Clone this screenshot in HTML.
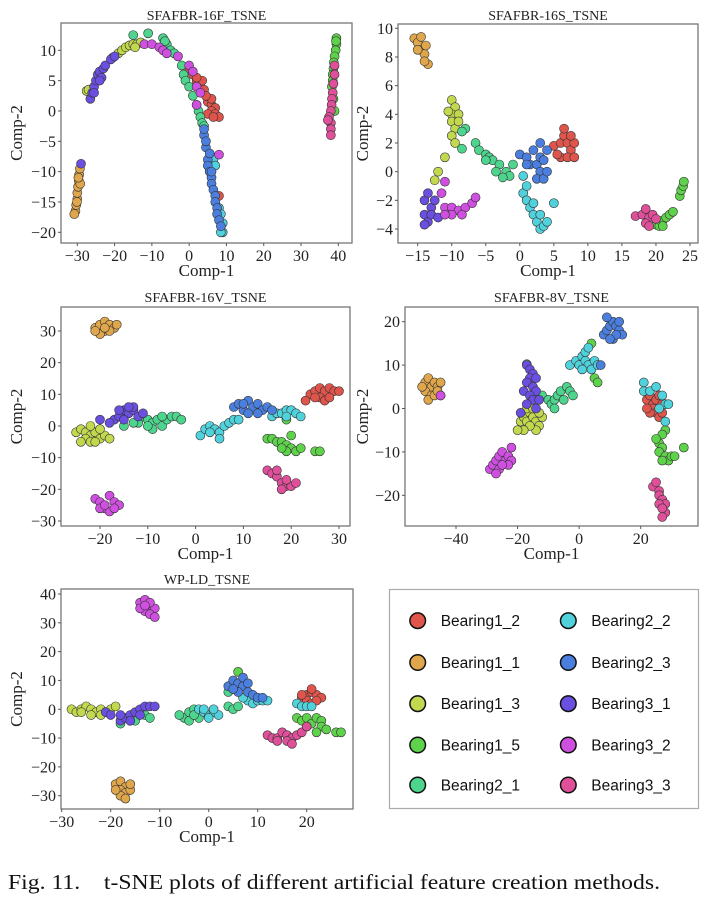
<!DOCTYPE html>
<html><head><meta charset="utf-8"><style>
body{margin:0;background:#fff;width:701px;height:900px;overflow:hidden;font-family:"Liberation Serif",serif}
svg{position:absolute;left:0;top:0}
</style></head><body>
<svg id="fig" width="701" height="900" viewBox="0 0 701 900"></svg>
<script>
// ---------- series names / colors ----------
const seriesNames=["Bearing1_2","Bearing1_1","Bearing1_3","Bearing1_5","Bearing2_1","Bearing2_2","Bearing2_3","Bearing3_1","Bearing3_2","Bearing3_3"];
const seriesColors=["#e0554b","#dfa64c","#c2d94f","#5fd24b","#4dd48d","#50d2dc","#4b7fdf","#6b4fe0","#cf50e0","#e04f99"];
// ---------- panel 1: SFAFBR-16F ----------
const f16_ticksX=[-30,-20,-10,0,10,20,30,40];
const f16_ticksY=[-20,-15,-10,-5,0,5,10];
const f16_B12=[[0,7],[1,6],[2,5],[3,4],[4,3.5],[3.5,5],[5,1.5],[6,1],[7,0.5],[6,0],[5,-0.5],[7,-0.5],[6,2],[8,-1],[2,5.5],[8,-14],[4.5,2.5],[6.5,-1]];
const f16_B11=[[-30.5,-16.5],[-30.3,-15.5],[-30,-14.5],[-30,-13.5],[-29.8,-12.5],[-29.6,-11.5],[-29.5,-10.5],[-29.3,-9.5],[-30.8,-17],[-29.2,-12],[-30.1,-15],[-29.7,-11]];
const f16_B13=[[-27.5,3.3],[-27,3.5],[-19,9.5],[-18,10],[-17,10.5],[-16,10.8],[-15,11],[-14,11],[-13,11.3],[-14.5,10.5],[-20.5,8.8]];
const f16_B15=[[39.5,12],[39.5,11],[39.3,10],[39,9],[38.8,8],[38.7,7],[38.5,6],[38.5,5],[38.3,4],[38.7,2],[39,0],[39.4,11.5]];
const f16_B21=[[-15,12.5],[-11,12.8],[-7,12],[-6,11],[-5,10],[-3,9],[-2,7.5],[-1.5,6],[-1,5],[0,4],[1,2.5],[2,1],[2.5,0],[3,-1],[3.5,-2],[4,-2.5],[-6.5,11.5],[-4,9.5]];
const f16_B22=[[6.5,-8],[8,-16],[8.5,-17],[9,-18.5],[9,-20],[8.5,-20],[7,-9]];
const f16_B23=[[4,-4],[4.5,-6],[5,-8],[5,-9],[5.5,-10],[6,-11],[6,-12],[6.5,-13],[7,-14],[7,-15],[7.5,-16],[7.5,-17],[8,-18],[8.5,-19],[4,-3],[5.5,-7],[4.5,-5],[6,-10]];
const f16_B31=[[-26.5,2],[-26,3],[-25.5,4],[-25,5],[-24.5,6],[-24,6.5],[-23,7],[-22.5,7.5],[-21,8.5],[-20,9],[-23.5,5.5],[-25.5,3],[-29,-8.7],[-24,5]];
const f16_B32=[[-12,11],[-10,11],[-8,10.5],[-7,10],[-6,9.5],[-3,9],[0,7.5],[1,6.5],[2,4],[3,3],[8,-7.2],[2,1]];
const f16_B33=[[39,7.5],[39,6],[38.7,4.5],[38.5,3],[38.3,2],[38.2,1],[38,0],[37.5,-1],[38,-2],[38,-3],[38,-4],[37.2,-1.5]];
// ---------- panel 2: SFAFBR-16S ----------
const s16_ticksX=[-15,-10,-5,0,5,10,15,20,25];
const s16_ticksY=[-4,-2,0,2,4,6,8,10];
const s16_B12=[[5,1.8],[6,2],[6.5,2.5],[7,2],[7.5,1.5],[8,2],[6,1],[7,1],[6.5,3],[5.5,1.2],[7.5,2.5],[8,1]];
const s16_B11=[[-15.5,9.3],[-15,9],[-14.5,9.4],[-14.5,8.5],[-14,8.2],[-13.5,7.5],[-14,7.7],[-15,8.5],[-13.8,8.8]];
const s16_B13=[[-10,5],[-9.5,4.5],[-10,4],[-9,4],[-10,3.5],[-9.5,3],[-10,2.5],[-9.5,2],[-9,3.5],[-10.5,4.2],[-11,1],[-12,0],[-12.5,-0.6]];
const s16_B15=[[20,-3.7],[21,-3.4],[21.5,-3.2],[22,-3],[22.5,-2.8],[20.5,-3.8],[21,-3.8],[23.5,-1.7],[23.7,-1.3],[24,-1],[24.1,-0.7]];
const s16_B21=[[-8,3],[-8.5,2.8],[-6.5,2],[-6,1.5],[-5,1.2],[-4.5,1],[-4,0.8],[-3,0.5],[-2,0],[-1.5,-0.3],[-2.5,-0.4],[-3.5,0],[-5,0.8],[-8.5,1.6],[-1,0.5]];
const s16_B22=[[0.5,-1.5],[1,-2],[1.5,-2.5],[2,-3],[2.5,-3.5],[3,-4],[3.5,-3.8],[3,-3],[4,-3.5],[2,-2.2],[0.5,-0.3],[1,-1],[5,-2.2]];
const s16_B23=[[0,1.2],[1,1],[1.5,0.5],[2,1.5],[2.5,0.5],[3,1],[3,0],[3.5,0.8],[3,2],[4,1.5],[2.5,-0.5],[3.5,-0.5],[1,0.5],[4,0]];
const s16_B31=[[-14,-2],[-13.5,-1.5],[-13,-2.5],[-14,-3],[-13.5,-3.5],[-13,-3],[-12.5,-2],[-14,-3.7],[-12,-3.2]];
const s16_B32=[[-11,-0.7],[-11.5,-1.5],[-11,-2.5],[-10,-2.5],[-9,-2.7],[-8,-2.5],[-7,-2.2],[-6.5,-1.8],[-10,-3],[-8.5,-3],[-11,-3]];
const s16_B33=[[17,-3.1],[18,-3],[18.5,-2.6],[19,-3.2],[19.5,-3],[18.5,-3.6],[20,-3.3],[19,-3.8]];
// ---------- panel 3: SFAFBR-16V ----------
const v16_ticksX=[-20,-10,0,10,20,30];
const v16_ticksY=[-30,-20,-10,0,10,20,30];
const v16_B12=[[24,10],[25,11],[26,12],[27,11],[28,12],[29,11],[30,11],[26,9],[27,8],[28,9],[25,9],[23,8]];
const v16_B11=[[-21,31],[-20,32],[-19,33],[-18,32],[-17,31],[-19,30],[-20,29],[-21,30],[-18,30],[-19,31],[-16.5,32]];
const v16_B13=[[-25,-2],[-24,-1],[-23,-2],[-22,-3],[-21,-2],[-23,-4],[-24,-5],[-22,-5],[-20,-4],[-21,-5],[-19,-3],[-18,-4],[-20,-1],[-22,0]];
const v16_B15=[[15,-4],[16,-4],[17,-5],[18,-5],[19,-6],[20,-7],[21,-8],[22,-7],[19,-8],[18,-7],[25,-8],[26,-8],[19,2],[20,-3]];
const v16_B21=[[-12,1],[-11,3],[-10,2],[-9,1],[-8,2],[-7,0],[-6,2],[-5,3],[-7,3],[-9,-1],[-4,3],[-3,2],[-10,0],[-15,0],[-13,1]];
const v16_B22=[[1,-3],[2,-1],[3,0],[4,-1],[5,-2],[6,0],[7,1],[8,2],[5,-4],[3,-2],[9,2],[16,3],[17,4],[18,4],[19,5],[20,5],[21,4],[22,3],[19,3]];
const v16_B23=[[8,6],[9,7],[10,5],[11,8],[12,6],[13,7],[14,5],[15,6],[11,4],[13,4],[10,7],[16,5]];
const v16_B31=[[-17,2],[-16,3],[-15,5],[-14,4],[-13,5],[-12,3],[-15,2],[-13,6],[-11,4],[-14,6],[-16,5],[-18,1],[-20,2]];
const v16_B32=[[-21,-23],[-20,-24],[-18,-22],[-17,-24],[-16,-25],[-19,-26],[-18,-27],[-20,-26],[-17,-26],[-19,-25]];
const v16_B33=[[15,-14],[16,-15],[17,-16],[17,-14],[18,-18],[19,-19],[20,-19],[18,-20],[19,-17],[21,-18]];
// ---------- panel 4: SFAFBR-8V ----------
const v8_ticksX=[-40,-20,0,20];
const v8_ticksY=[-20,-10,0,10,20];
const v8_B12=[[22,2],[23,3],[24,1],[25,2],[26,3],[27,1],[24,0],[25,-1],[23,-1],[26,-2],[27,-1],[22,0]];
const v8_B11=[[-50,6],[-49,7],[-48,5],[-47,6],[-46,5],[-45,6],[-50,4],[-48,3],[-49,2],[-47,3],[-46,4],[-51,5],[-45,3]];
const v8_B13=[[-19,-3],[-18,-2],[-17,-3],[-16,-1],[-15,-2],[-14,-3],[-13,-4],[-12,-2],[-14,-5],[-16,-4],[-18,-5],[-20,-5],[-17,0],[-13,-1],[-15,0]];
const v8_B15=[[4,15],[5,7],[6,6],[28,-5],[27,-6],[26,-8],[27,-9],[26,-10],[28,-11],[29,-12],[30,-11],[27,-12],[31,-11],[34,-9],[25,-7]];
const v8_B21=[[-12,3],[-10,2],[-9,1],[-8,2],[-7,3],[-6,4],[-4,5],[-3,4],[-2,3],[-5,2],[-8,0],[-17,10.2]];
const v8_B22=[[-3,10],[-1,11],[0,10],[1,12],[2,11],[3,10],[4,9],[5,11],[2,13],[6,10],[1,9],[3,14],[21,4],[23,4],[25,5],[27,3],[28,1],[29,1],[21,6],[26,0],[28,-3]];
const v8_B23=[[8,17],[9,18],[10,19],[11,20],[12,19],[13,18],[14,17],[11,16],[12,17],[10,16],[13,20],[9,21],[7,10]];
const v8_B31=[[-17,10],[-16,9],[-15,8],[-16,7],[-14,7],[-17,6],[-15,5],[-14,4],[-18,4],[-16,3],[-15,2],[-17,1],[-13,2],[-14,0],[-19,-1]];
const v8_B32=[[-29,-14],[-28,-13],[-27,-12],[-26,-11],[-25,-10],[-24,-12],[-23,-11],[-22,-12],[-23,-13],[-26,-14],[-27,-15],[-25,-13],[-22,-9],[-45,3]];
const v8_B33=[[24,-18],[25,-17],[26,-19],[26,-20],[27,-21],[28,-22],[28,-24],[27,-25],[26,-22],[27,-23]];
// ---------- panel 5: WP-LD ----------
const wp_ticksX=[-30,-20,-10,0,10,20];
const wp_ticksY=[-30,-20,-10,0,10,20,30,40];
const wp_B12=[[19,4],[20,5],[21,6],[22,5],[23,4],[20,3],[21,2],[22,3],[19,5],[21,7]];
const wp_B11=[[-19,-26],[-18,-25],[-17,-27],[-18,-28],[-17,-29],[-16,-28],[-18,-30],[-17,-31],[-19,-28],[-16,-26]];
const wp_B13=[[-28,0],[-27,-1],[-26,0],[-25,1],[-24,0],[-23,-1],[-22,0],[-21,-1],[-20,0],[-19,1],[-24,-2],[-26,-1],[-22,-2]];
const wp_B15=[[6,13],[18,-3],[19,-4],[20,-3],[21,-5],[20,-6],[22,-3],[23,-4],[23,-6],[22,-8],[24,-7],[26,-8],[27,-8]];
const wp_B21=[[-18,-5],[-16,-4],[-15,-4],[-13,-2],[-12,-3],[-5,-3],[-4,-1],[-3,0],[-2,-3],[-4,-4],[-6,-2],[-3,-2],[4,6],[4,1],[5,0],[6,1]];
const wp_B22=[[-2,0],[-1,-1],[0,-2],[1,-1],[2,-2],[0,-3],[-1,0],[1,0],[8,3],[9,2],[10,3],[11,3],[12,3],[7,4],[18,2],[19,1],[20,1],[21,1]];
const wp_B23=[[4,8],[5,10],[6,9],[7,8],[6,6],[8,6],[9,5],[10,4],[11,4],[5,7],[7,11],[8,9]];
const wp_B31=[[-21,-1],[-20,-2],[-18,-4],[-17,-3],[-16,-2],[-15,-1],[-14,0],[-13,1],[-12,1],[-11,1],[-16,-4],[-14,-2],[-18,-2]];
const wp_B32=[[-14,37],[-13,38],[-12,36],[-11,35],[-13,34],[-12,33],[-11,32],[-14,35],[-12,37],[-13,36]];
const wp_B33=[[12,-9],[13,-10],[14,-10],[15,-8],[16,-9],[17,-10],[18,-9],[19,-8],[16,-11],[17,-12],[20,-6],[14,-11]];

const NS="http://www.w3.org/2000/svg";
const svg=document.getElementById('fig');
function mk(tag,attrs,parent){const e=document.createElementNS(NS,tag);for(const k in attrs)e.setAttribute(k,attrs[k]);(parent||svg).appendChild(e);return e;}
function fmt(v){return v<0?"\u2212"+(-v):""+v;}

const panels=[
 {key:"16f",title:"SFAFBR-16F_TSNE",L:61,T:23,R:352,B:243,x0:77.3,x1:338.3,vx0:-30,vx1:40,y0:232.3,y1:50.3,vy0:-20,vy1:10,tx:f16_ticksX,ty:f16_ticksY,ylx:22,titleY:20,xlabY:276,
  s:[f16_B12,f16_B11,f16_B13,f16_B15,f16_B21,f16_B22,f16_B23,f16_B31,f16_B32,f16_B33]},
 {key:"16s",title:"SFAFBR-16S_TSNE",L:398,T:24,R:698,B:243,x0:417.7,x1:690,vx0:-15,vx1:25,y0:229,y1:28.3,vy0:-4,vy1:10,tx:s16_ticksX,ty:s16_ticksY,ylx:368,titleY:20,xlabY:276,
  s:[s16_B12,s16_B11,s16_B13,s16_B15,s16_B21,s16_B22,s16_B23,s16_B31,s16_B32,s16_B33]},
 {key:"16v",title:"SFAFBR-16V_TSNE",L:61,T:307,R:350,B:526,x0:100,x1:339,vx0:-20,vx1:30,y0:521,y1:331,vy0:-30,vy1:30,tx:v16_ticksX,ty:v16_ticksY,ylx:22,titleY:302,xlabY:559,
  s:[v16_B12,v16_B11,v16_B13,v16_B15,v16_B21,v16_B22,v16_B23,v16_B31,v16_B32,v16_B33]},
 {key:"8v",title:"SFAFBR-8V_TSNE",L:405,T:307,R:698,B:526,x0:456,x1:640.7,vx0:-40,vx1:20,y0:495.3,y1:321.7,vy0:-20,vy1:20,tx:v8_ticksX,ty:v8_ticksY,ylx:368,titleY:302,xlabY:559,
  s:[v8_B12,v8_B11,v8_B13,v8_B15,v8_B21,v8_B22,v8_B23,v8_B31,v8_B32,v8_B33]},
 {key:"wp",title:"WP-LD_TSNE",L:61,T:589,R:353,B:809,x0:61.7,x1:306.7,vx0:-30,vx1:20,y0:795.7,y1:594,vy0:-30,vy1:40,tx:wp_ticksX,ty:wp_ticksY,ylx:22,titleY:584,xlabY:842,
  s:[wp_B12,wp_B11,wp_B13,wp_B15,wp_B21,wp_B22,wp_B23,wp_B31,wp_B32,wp_B33]}
];

panels.forEach(p=>{
 const sx=v=>p.x0+(v-p.vx0)*(p.x1-p.x0)/(p.vx1-p.vx0);
 const sy=v=>p.y0+(v-p.vy0)*(p.y1-p.y0)/(p.vy1-p.vy0);
 const g=mk('g',{});
 
 
 const t=mk('text',{x:(p.L+p.R)/2,y:p.titleY,'text-anchor':'middle','font-size':'14','fill':'#222'},g);t.textContent=p.title;
 
 
 const pg=mk('g',{},g);
 
 
 p.s.forEach((pts,si)=>{
  pts.forEach(pt=>{
   const c=mk('circle',{cx:sx(pt[0]),cy:sy(pt[1]),r:4.5,fill:seriesColors[si],stroke:'#333','stroke-width':0.6},pg);
   
   
  });
 });
 const fr=mk('rect',{x:p.L,y:p.T,width:p.R-p.L,height:p.B-p.T,fill:'none',stroke:'#777','stroke-width':1.3},g);
 
 
 p.tx.forEach(v=>{
  const x=sx(v);
  mk('line',{x1:x,x2:x,y1:p.B,y2:p.B+3,stroke:'#555','stroke-width':1},g);
  const tt=mk('text',{x:x,y:p.B+18,'text-anchor':'middle','font-size':'16','fill':'#222'},g);tt.textContent=fmt(v);
  
  
 });
 p.ty.forEach(v=>{
  const y=sy(v);
  mk('line',{x1:p.L-3,x2:p.L,y1:y,y2:y,stroke:'#555','stroke-width':1},g);
  const tt=mk('text',{x:p.L-5,y:y+5.5,'text-anchor':'end','font-size':'16','fill':'#222'},g);tt.textContent=fmt(v);
  
  
 });
 const xl=mk('text',{x:(p.L+p.R)/2,y:p.xlabY,'text-anchor':'middle','font-size':'17','fill':'#222'},g);xl.textContent="Comp-1";
 
 
 const yl=mk('text',{x:0,y:0,'text-anchor':'middle','font-size':'17','fill':'#222',transform:`translate(${p.ylx},${(p.T+p.B)/2}) rotate(-90)`},g);yl.textContent="Comp-2";
 
 
});

// legend
const lg=mk('g',{});


mk('rect',{x:389.5,y:589.5,width:309,height:219,fill:'#fff',stroke:'#aaa','stroke-width':1.2},lg);
const rowsY=[620.7,662.5,703.7,745,785];
seriesNames.forEach((n,i)=>{
 const col=i<5?0:1,row=i%5;
 const cx=col?568.3:417.7;
 const eg=mk('g',{},lg);
 
 
 mk('circle',{cx:cx,cy:rowsY[row],r:7.8,fill:seriesColors[i],stroke:'#111','stroke-width':1.5},eg);
 const tx=mk('text',{x:cx+23,y:rowsY[row]+5.5,'font-size':'15.5','fill':'#111','font-family':'Liberation Sans, sans-serif'},eg);tx.textContent=n;
});
const cap=mk('text',{x:8,y:889,'font-size':'21','fill':'#111',style:'white-space:pre',textLength:'652',lengthAdjust:'spacingAndGlyphs'});
cap.textContent="Fig. 11.    t-SNE plots of different artificial feature creation methods.";


</script>
</body></html>
